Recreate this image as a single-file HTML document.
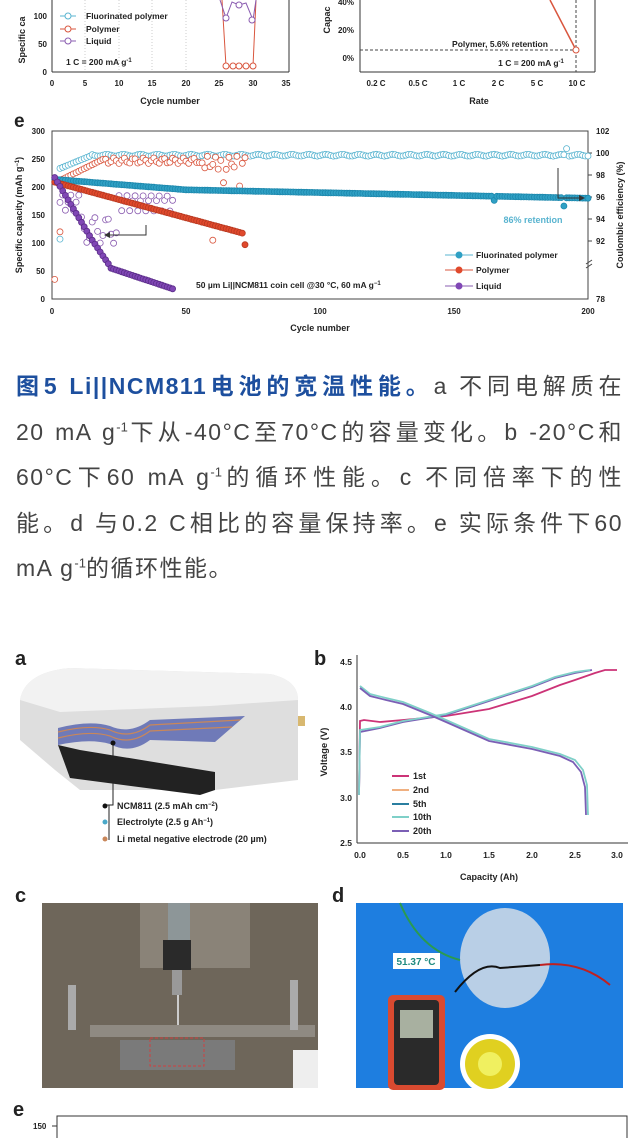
<!DOCTYPE html>
<html><head><meta charset="utf-8"><style>
html,body{margin:0;padding:0;background:#fff;}
body{width:640px;height:1138px;position:relative;overflow:hidden;font-family:"Liberation Sans",sans-serif;}
svg{position:absolute;left:0;top:0;}
.t{font-family:"Liberation Sans",sans-serif;font-weight:bold;fill:#222;}
.cap{position:absolute;left:16px;top:364px;width:607px;font-family:"Liberation Sans","Noto Sans CJK SC",sans-serif;font-size:23px;letter-spacing:1.5px;line-height:45.5px;color:#444;white-space:nowrap;}
.cap div{text-align:justify;text-align-last:justify;height:45.5px;}
.cap div.l{text-align-last:left;}
.cap b{color:#1d4f9e;}
.cap sup{font-size:13px;line-height:0;vertical-align:super;letter-spacing:0;}
</style></head><body>
<svg id="s" width="640" height="1138" viewBox="0 0 640 1138" xmlns="http://www.w3.org/2000/svg">
<g>
<line x1="52" y1="0" x2="52" y2="72" stroke="#333" stroke-width="1"/>
<line x1="52" y1="72" x2="289" y2="72" stroke="#333"/>
<line x1="289" y1="0" x2="289" y2="72" stroke="#333"/>
<g stroke="#ccc" stroke-dasharray="1,2"><line x1="85" y1="0" x2="85" y2="72"/><line x1="119" y1="0" x2="119" y2="72"/><line x1="152" y1="0" x2="152" y2="72"/><line x1="186" y1="0" x2="186" y2="72"/></g>
<g class="t" font-size="8" text-anchor="end"><text x="47" y="75">0</text><text x="47" y="47">50</text><text x="47" y="19">100</text></g>
<g class="t" font-size="8" text-anchor="middle"><text x="52" y="86">0</text><text x="85" y="86">5</text><text x="119" y="86">10</text><text x="152" y="86">15</text><text x="186" y="86">20</text><text x="219" y="86">25</text><text x="253" y="86">30</text><text x="286" y="86">35</text><text x="170" y="104" font-size="9">Cycle number</text></g>
<text class="t" font-size="9" transform="translate(25,40) rotate(-90)" text-anchor="middle">Specific ca</text>
<g stroke="#59b4d0" fill="#fff"><line x1="60" y1="16" x2="76" y2="16"/><circle cx="68" cy="16" r="3"/></g>
<g stroke="#d9563e" fill="#fff"><line x1="60" y1="29" x2="76" y2="29"/><circle cx="68" cy="29" r="3"/></g>
<g stroke="#8a5cb0" fill="#fff"><line x1="60" y1="41" x2="76" y2="41"/><circle cx="68" cy="41" r="3"/></g>
<g class="t" font-size="8.5"><text x="86" y="19">Fluorinated polymer</text><text x="86" y="32">Polymer</text><text x="86" y="44">Liquid</text><text x="66" y="65">1 C = 200 mA g<tspan font-size="6" dy="-3">-1</tspan></text></g>
<polyline points="222,0 226,66 253,66 256,0" fill="none" stroke="#d9563e"/>
<polyline points="220,0 226,18 232,2 239,5 246,3 253,20 256,0" fill="none" stroke="#8a5cb0"/>
<g fill="#fff" stroke="#d9563e"><circle cx="226" cy="66" r="3"/><circle cx="233" cy="66" r="3"/><circle cx="239" cy="66" r="3"/><circle cx="246" cy="66" r="3"/><circle cx="253" cy="66" r="3"/></g>
<g fill="#fff" stroke="#8a5cb0"><circle cx="226" cy="18" r="3"/><circle cx="239" cy="5" r="3"/><circle cx="252" cy="20" r="3"/></g>
</g>
<g>
<line x1="360" y1="0" x2="360" y2="72" stroke="#333"/>
<line x1="360" y1="72" x2="595" y2="72" stroke="#333"/>
<line x1="595" y1="0" x2="595" y2="72" stroke="#333"/>
<g class="t" font-size="8" text-anchor="end"><text x="354" y="5">40%</text><text x="354" y="33">20%</text><text x="354" y="61">0%</text></g>
<g class="t" font-size="8" text-anchor="middle"><text x="376" y="86">0.2 C</text><text x="418" y="86">0.5 C</text><text x="459" y="86">1 C</text><text x="498" y="86">2 C</text><text x="537" y="86">5 C</text><text x="577" y="86">10 C</text><text x="479" y="104" font-size="9">Rate</text></g>
<text class="t" font-size="9" transform="translate(330,20) rotate(-90)" text-anchor="middle">Capac</text>
<line x1="360" y1="50" x2="576" y2="50" stroke="#444" stroke-dasharray="3,2"/>
<line x1="576" y1="0" x2="576" y2="72" stroke="#444" stroke-dasharray="3,2"/>
<line x1="550" y1="0" x2="576" y2="50" stroke="#d9563e" stroke-width="1.5"/>
<circle cx="576" cy="50" r="3" fill="#fff" stroke="#d9563e"/>
<text class="t" font-size="8.5" x="500" y="47" text-anchor="middle">Polymer, 5.6% retention</text>
<text class="t" font-size="8.5" x="531" y="66" text-anchor="middle">1 C = 200 mA g<tspan font-size="6" dy="-3">-1</tspan></text>
</g>
<g>
<text class="t" font-size="19" x="14" y="127">e</text>
<rect x="52" y="131" width="536" height="168" fill="none" stroke="#444"/>
<g class="t" font-size="8" text-anchor="end"><text x="45" y="134">300</text><text x="45" y="162">250</text><text x="45" y="190">200</text><text x="45" y="218">150</text><text x="45" y="246">100</text><text x="45" y="274">50</text><text x="45" y="302">0</text></g>
<g class="t" font-size="8"><text x="596" y="134">102</text><text x="596" y="156">100</text><text x="596" y="178">98</text><text x="596" y="200">96</text><text x="596" y="222">94</text><text x="596" y="244">92</text><text x="596" y="302">78</text></g>
<g stroke="#444"><line x1="588" y1="153" x2="592" y2="153"/><line x1="588" y1="175" x2="592" y2="175"/><line x1="588" y1="197" x2="592" y2="197"/><line x1="588" y1="219" x2="592" y2="219"/><line x1="588" y1="241" x2="592" y2="241"/></g>
<g stroke="#444"><line x1="586" y1="264" x2="592" y2="260"/><line x1="586" y1="268" x2="592" y2="264"/></g>
<g class="t" font-size="8" text-anchor="middle"><text x="52" y="314">0</text><text x="186" y="314">50</text><text x="320" y="314">100</text><text x="454" y="314">150</text><text x="588" y="314">200</text><text x="320" y="331" font-size="9">Cycle number</text></g>
<text class="t" font-size="9" transform="translate(22,215) rotate(-90)" text-anchor="middle">Specific capacity (mAh g<tspan font-size="6" dy="-3">−1</tspan><tspan dy="3">)</tspan></text>
<text class="t" font-size="9" transform="translate(623,215) rotate(-90)" text-anchor="middle">Coulombic efficiency (%)</text>
<g id="pts"></g>
<polyline points="146,225 146,235 106,235" fill="none" stroke="#333"/>
<polygon points="104,235 110,232 110,238" fill="#333"/>
<polyline points="558,168 558,198 582,198" fill="none" stroke="#333"/>
<polygon points="585,198 579,195 579,201" fill="#333"/>
<text font-size="9" font-weight="bold" x="533" y="223" text-anchor="middle" fill="#59b4d0">86% retention</text>
<g stroke="#59b4d0"><line x1="445" y1="255" x2="473" y2="255"/></g><circle cx="459" cy="255" r="3.5" fill="#2fa0c4"/>
<g stroke="#d9563e"><line x1="445" y1="270" x2="473" y2="270"/></g><circle cx="459" cy="270" r="3.5" fill="#e0492c"/>
<g stroke="#8a5cb0"><line x1="445" y1="286" x2="473" y2="286"/></g><circle cx="459" cy="286" r="3.5" fill="#8047b5"/>
<g class="t" font-size="8.5"><text x="476" y="258">Fluorinated polymer</text><text x="476" y="273">Polymer</text><text x="476" y="289">Liquid</text>
<text x="196" y="288">50 µm Li||NCM811 coin cell @30 °C, 60 mA g<tspan font-size="6" dy="-3">−1</tspan></text></g>
</g>
<text class="t" font-size="20" x="15" y="665">a</text>
<polygon points="234,683 262,683 262,692 234,692" fill="#333"/>
<polygon points="283,716 305,716 305,726 283,726" fill="#d8b870"/>
<path d="M20,700 Q25,672 70,668 L270,674 Q298,680 298,700 L298,780 L215,790 L80,790 L55,770 L20,740 Z" fill="#dedede"/>
<path d="M20,700 Q25,672 70,668 L270,674 Q298,680 298,700 L210,706 L60,712 Z" fill="#f2f2f2"/>
<path d="M58,745 L70,778 L200,795 L215,790 L215,772 L80,750 Z" fill="#222"/>
<path d="M58,728 Q90,720 110,726 Q130,735 150,720 L245,716 L215,742 L150,740 Q130,755 110,744 Q90,738 58,745 Z" fill="#6f7ab8"/>
<g stroke="#c9875a" stroke-width="1.2" fill="none"><path d="M58,732 Q90,724 110,730 Q130,740 150,725 L240,720"/><path d="M58,738 Q90,730 110,736 Q130,746 150,731 L232,727"/></g>
<polyline points="113,745 113,805 105,805" fill="none" stroke="#222"/>
<circle cx="113" cy="743" r="2.5" fill="#111"/>
<line x1="109" y1="805" x2="109" y2="840" stroke="#222"/>
<circle cx="105" cy="806" r="2.5" fill="#111"/><circle cx="105" cy="822" r="2.5" fill="#4aa9c9"/><circle cx="105" cy="839" r="2.5" fill="#c9875a"/>
<g class="t" font-size="9"><text x="117" y="809">NCM811  (2.5 mAh cm<tspan font-size="6" dy="-3">−2</tspan><tspan dy="3">)</tspan></text><text x="117" y="825">Electrolyte  (2.5 g Ah<tspan font-size="6" dy="-3">−1</tspan><tspan dy="3">)</tspan></text><text x="117" y="842">Li metal negative electrode  (20 µm)</text></g>
<text class="t" font-size="20" x="314" y="665">b</text>
<line x1="357" y1="655" x2="357" y2="843" stroke="#333"/><line x1="357" y1="843" x2="628" y2="843" stroke="#333"/>
<g class="t" font-size="8.5" text-anchor="end"><text x="352" y="665">4.5</text><text x="352" y="710">4.0</text><text x="352" y="755">3.5</text><text x="352" y="801">3.0</text><text x="352" y="846">2.5</text></g>
<g class="t" font-size="8.5" text-anchor="middle"><text x="360" y="858">0.0</text><text x="403" y="858">0.5</text><text x="446" y="858">1.0</text><text x="489" y="858">1.5</text><text x="532" y="858">2.0</text><text x="575" y="858">2.5</text><text x="617" y="858">3.0</text><text x="489" y="880" font-size="9">Capacity (Ah)</text></g>
<text class="t" font-size="9.5" transform="translate(327,752) rotate(-90)" text-anchor="middle">Voltage (V)</text>
<g fill="none" stroke-width="1.8">
<path d="M359,795 L360,721 L364,720 L380,722 L403,720 L446,716 L489,709 L532,696 L560,685 L575,680 L595,673 L605,670 L617,670" stroke="#cc3377"/>
<path d="M359,795 L360,732 L380,728 L403,722 L446,715 L489,701 L532,687 L555,678 L575,673 L592,670" stroke="#7b5fb5"/>
<path d="M359,795 L360,730 L380,727 L403,721 L446,714 L489,700 L532,686 L555,677 L575,672 L590,670" stroke="#7fd0c8"/>
<path d="M360,686 L370,694 L386,698 L403,702 L430,713 L446,720 L489,739 L532,747 L560,754 L575,760 L583,770 L587,785 L588,815" stroke="#7fd0c8"/>
<path d="M360,688 L370,696 L386,700 L403,704 L430,715 L446,722 L489,741 L532,749 L560,756 L573,762 L581,772 L585,787 L586,815" stroke="#7b5fb5"/>
</g>
<g stroke-width="2"><line x1="392" y1="776" x2="409" y2="776" stroke="#cc3377"/><line x1="392" y1="790" x2="409" y2="790" stroke="#f0b080"/><line x1="392" y1="804" x2="409" y2="804" stroke="#2a7ea0"/><line x1="392" y1="817" x2="409" y2="817" stroke="#7fd0c8"/><line x1="392" y1="831" x2="409" y2="831" stroke="#7b5fb5"/></g>
<g class="t" font-size="9"><text x="413" y="779">1st</text><text x="413" y="793">2nd</text><text x="413" y="807">5th</text><text x="413" y="820">10th</text><text x="413" y="834">20th</text></g>
<text class="t" font-size="20" x="15" y="902">c</text>
<rect x="42" y="903" width="276" height="185" fill="#6e665a"/>
<rect x="140" y="903" width="110" height="65" fill="#8a8378"/>
<rect x="168" y="903" width="22" height="40" fill="#8d9698"/>
<rect x="163" y="940" width="28" height="30" fill="#2a2a2a"/>
<rect x="172" y="970" width="10" height="25" fill="#999"/>
<line x1="178" y1="995" x2="178" y2="1030" stroke="#ccc" stroke-width="2"/>
<rect x="90" y="1025" width="225" height="12" fill="#8f8a82"/>
<rect x="68" y="985" width="8" height="45" fill="#aaa"/><rect x="290" y="980" width="8" height="50" fill="#aaa"/>
<rect x="120" y="1040" width="115" height="30" fill="#7a7a7a"/>
<rect x="150" y="1038" width="54" height="28" fill="none" stroke="#d04040" stroke-dasharray="3,2"/>
<rect x="293" y="1050" width="25" height="38" fill="#eee"/>
<text class="t" font-size="20" x="332" y="902">d</text>
<rect x="356" y="903" width="267" height="185" fill="#1e7ee0"/>
<ellipse cx="505" cy="958" rx="45" ry="50" fill="#b9cfe6"/>
<rect x="388" y="995" width="57" height="95" rx="5" fill="#d94a30"/>
<rect x="394" y="1000" width="45" height="85" rx="4" fill="#2a2a2a"/>
<rect x="400" y="1010" width="33" height="28" fill="#a8b0a0"/>
<rect x="393" y="953" width="47" height="16" fill="#fff"/>
<text x="416" y="965" font-size="10" font-weight="bold" fill="#1f8a80" text-anchor="middle">51.37 °C</text>
<circle cx="490" cy="1064" r="30" fill="#fff"/>
<circle cx="490" cy="1064" r="25" fill="#e0d020"/>
<circle cx="490" cy="1064" r="12" fill="#f0f060"/>
<path d="M455,992 Q480,960 500,968 L540,965" stroke="#111" fill="none" stroke-width="2"/>
<path d="M540,965 Q580,960 610,985" stroke="#c02020" fill="none" stroke-width="2"/>
<path d="M400,903 Q420,950 460,960" stroke="#2a9a50" fill="none" stroke-width="2"/>
<text class="t" font-size="20" x="13" y="1116">e</text>
<text class="t" font-size="8" x="33" y="1129">150</text>
<polyline points="57,1138 57,1116 627,1116 627,1138" fill="none" stroke="#333"/>
<line x1="52" y1="1126" x2="57" y2="1126" stroke="#333"/>
</svg>
<div class="cap">
<div><b>图5 Li||NCM811电池的宽温性能。</b>a 不同电解质在</div>
<div>20 mA g<sup>-1</sup>下从-40°C至70°C的容量变化。b -20°C和</div>
<div>60°C下60 mA g<sup>-1</sup>的循环性能。c 不同倍率下的性</div>
<div>能。d 与0.2 C相比的容量保持率。e 实际条件下60</div>
<div class="l">mA g<sup>-1</sup>的循环性能。</div>
</div>
<script>
(function(){
var g=document.getElementById('pts'),h='';
function X(c){return 52+c*2.68;}
function YL(v){return 299-v*0.56;}
function YR(v){return 131+(102-v)*11;}
function c(x,y,f,s,r){h+='<circle cx="'+x.toFixed(1)+'" cy="'+y.toFixed(1)+'" r="'+(r||3)+'" fill="'+f+'" stroke="'+s+'" stroke-width="0.8"/>';}
var T='#59b4d0',TF='#2fa0c4',R='#d9563e',RF='#e0492c',P='#8a5cb0',PF='#8047b5';
for(var i=3;i<=200;i++){var v=i<15?98.6+(i-3)*0.1:99.8+Math.sin(i)*0.08;if(i==192)v=100.4;c(X(i),YR(v),'#fff',T);}
for(var i=3;i<=72;i++){var v=i<20?97.5+(i-3)*0.12:99.3+Math.sin(i*1.7)*0.25;if(i>55)v=99.1+Math.sin(i*2.3)*0.6;if(i==64)v=97.3;if(i==70)v=97;c(X(i),YR(v),'#fff',R);}
c(X(1),YL(35),'#fff',R);c(X(3),YL(120),'#fff',R);c(X(60),YL(105),'#fff',R);
for(var i=3;i<=45;i++){var v=95.5+Math.sin(i*2.1)*0.8;if(i>10&&i<25)v=93+Math.sin(i*1.3)*1.2;c(X(i),YR(v),'#fff',P);}
c(X(3),YL(107),'#fff',T);
for(var i=1;i<=200;i++){var v=i<50?214-i*0.38:195-(i-50)*0.1;if(i==165)v=176;if(i==191)v=166;c(X(i),YL(v),TF,'#1d88ad',3);}
for(var i=1;i<=72;i++){var v=210-i*1.3;if(i==72)v=97;c(X(i),YL(v),RF,'#b83a22',3);}
for(var i=1;i<=45;i++){var v=i<15?225-i*8:(i<22?105-(i-15)*7:55-(i-22)*1.6);c(X(i),YL(v),PF,'#5c2e8a',3);}
g.innerHTML=h;
})();
</script>
</body></html>
